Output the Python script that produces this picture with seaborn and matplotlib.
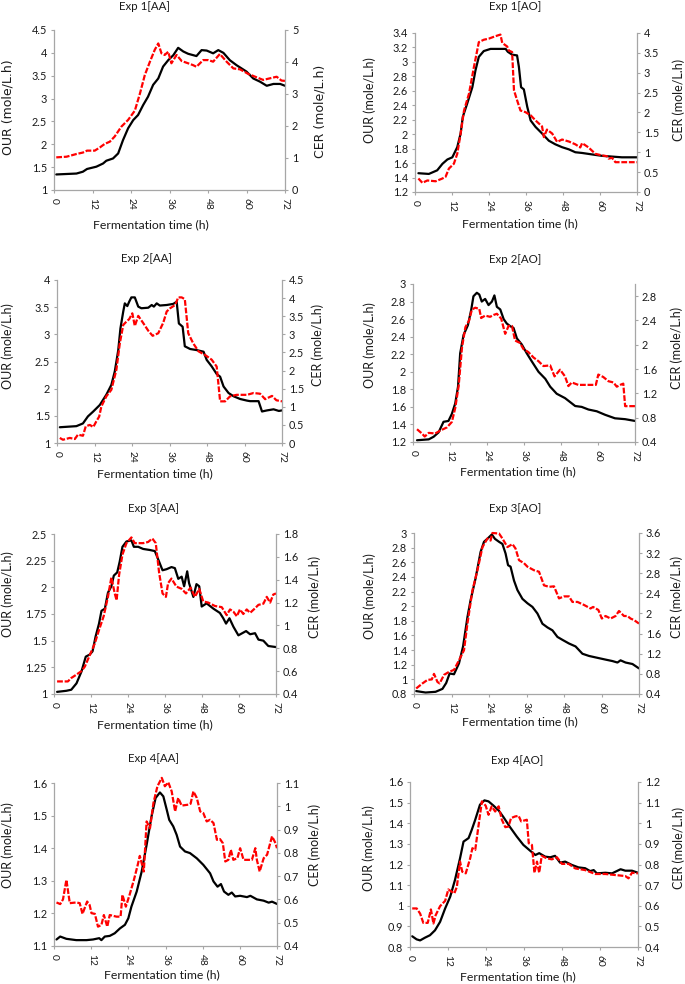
import matplotlib
matplotlib.use("Agg")
import matplotlib.pyplot as plt
import seaborn as sns

sns.set_theme(style="white")
plt.rcParams['font.family'] = ['Lato', 'DejaVu Sans']

# ---------------- data ----------------
titles = ["Exp 1[AA]", "Exp 1[AO]", "Exp 2[AA]", "Exp 2[AO]",
          "Exp 3[AA]", "Exp 3[AO]", "Exp 4[AA]", "Exp 4[AO]"]
x_ticks = [0, 12, 24, 36, 48, 60, 72]
x_label = "Fermentation time (h)"
our_label = "OUR (mole/L.h)"
cer_label = "CER (mole/L.h)"

# Exp 1[AA]
t_our_1aa = [0.7, 7, 9, 10.3, 13.2, 15.3, 16.3, 18.4, 20, 21.5, 23.1, 24.7, 26.2, 27.8, 29.3, 30.9, 32.5, 34, 35.6, 37.2,
             38.7, 40.3, 41.8, 44.4, 46, 47.6, 49.6, 51.2, 52.8, 54.8, 56.9, 60, 62.1, 64.2, 66.3, 68.4, 70.5, 72]
our_1aa = [1.34, 1.36, 1.4, 1.46, 1.51, 1.58, 1.64, 1.69, 1.8, 2.09, 2.35, 2.53, 2.64, 2.86, 3.04, 3.3, 3.44, 3.7, 3.84, 3.95,
           4.11, 4.03, 3.98, 3.93, 4.06, 4.05, 3.99, 4.06, 4.0, 3.84, 3.73, 3.59, 3.44, 3.37, 3.28, 3.32, 3.32, 3.28]
t_cer_1aa = [0.7, 3.9, 7, 9, 10.3, 12.7, 14.3, 15.8, 17.4, 18.9, 21, 23.1, 25.2, 26.8, 28.3, 29.9, 31.4, 32.5, 33.5, 34.5,
             35.6, 36.6, 38.2, 39.8, 41.8, 43.4, 44.4, 46.5, 48.1, 49.6, 51.7, 53.8, 55.9, 58, 60.5, 63.2, 65.2, 67.3, 69.4, 70.9, 72]
cer_1aa = [1.02, 1.04, 1.125, 1.17, 1.23, 1.23, 1.33, 1.44, 1.51, 1.67, 1.98, 2.19, 2.48, 3.02, 3.59, 4.01, 4.38, 4.58, 4.27, 4.22,
           4.32, 3.96, 4.22, 4.03, 3.96, 3.9, 3.85, 4.06, 4.06, 4.01, 4.25, 4.01, 3.8, 3.77, 3.63, 3.52, 3.44, 3.49, 3.54, 3.42, 3.41]

# Exp 1[AO]
t_our_1ao = [1.1, 4.5, 7.2, 8.9, 10.5, 12.1, 13.7, 14.8, 15.5, 16.9, 18.6, 19.6, 20.7, 22.3, 24.5, 27.2, 29.4, 30.1, 31.5, 33.1,
             33.7, 34.4, 35.3, 36.4, 37.5, 39.1, 41.2, 43.4, 45.5, 47.7, 49.9, 52, 54.2, 57.4, 60.7, 63.9, 67.1, 72]
our_1ao = [1.46, 1.45, 1.5, 1.59, 1.65, 1.68, 1.82, 2.01, 2.24, 2.42, 2.65, 2.88, 3.07, 3.15, 3.18, 3.18, 3.18, 3.14, 3.1, 3.09,
           2.93, 2.65, 2.62, 2.38, 2.19, 2.1, 2.01, 1.91, 1.86, 1.82, 1.79, 1.75, 1.74, 1.72, 1.7, 1.69, 1.68, 1.68]
t_cer_1ao = [1.1, 2.4, 4, 6.7, 8.9, 9.9, 11, 12.6, 13.7, 14.8, 15.9, 17.5, 19.1, 20.7, 22.3, 24, 26.1, 27.7, 28.3, 29.9,
             30.4, 31.5, 32.1, 33.1, 34.2, 35.8, 37.5, 39.1, 41.2, 41.8, 42.8, 44.5, 46.1, 47.7, 49.9, 52, 53.6, 54.2, 56.3, 58.5,
             60.7, 62.3, 62.8, 63.9, 65, 68.2, 72]
cer_1ao = [0.34, 0.23, 0.29, 0.27, 0.34, 0.38, 0.59, 0.71, 0.96, 1.47, 2.05, 2.47, 3.14, 3.77, 3.83, 3.86, 3.92, 3.96, 3.75, 3.66,
           3.56, 3.52, 2.56, 2.31, 2.05, 2.01, 1.93, 1.8, 1.65, 1.38, 1.57, 1.47, 1.26, 1.32, 1.27, 1.2, 1.12, 1.23, 1.12, 0.96,
           0.92, 0.9, 0.84, 0.86, 0.75, 0.75, 0.75]

# Exp 2[AA]
t_our_2aa = [0.9, 6.2, 8.3, 9.9, 11.6, 13.7, 15.8, 17.4, 18.5, 19.6, 20.3, 21.2, 21.7, 22.5, 23.1, 23.8, 24.9, 26, 27, 29.2,
             30.3, 31, 31.9, 32.9, 35.1, 37.2, 38.3, 39, 40.2, 40.9, 42.6, 44.7, 46.9, 47.9, 49.5, 51.1, 52.2, 53.3, 54.9, 56.5,
             58.6, 60.8, 61.8, 64.5, 65.6, 67.2, 69.3, 71, 72]
our_2aa = [1.29, 1.31, 1.36, 1.49, 1.58, 1.7, 1.89, 2.07, 2.32, 2.71, 3.11, 3.42, 3.57, 3.52, 3.6, 3.68, 3.68, 3.51, 3.48, 3.49,
           3.54, 3.51, 3.57, 3.53, 3.54, 3.56, 3.6, 3.2, 3.14, 2.78, 2.73, 2.71, 2.68, 2.53, 2.41, 2.27, 2.22, 2.04, 1.92, 1.86,
           1.81, 1.78, 1.77, 1.77, 1.58, 1.6, 1.62, 1.59, 1.6]
t_cer_2aa = [0.9, 1.9, 4.1, 5.7, 6.7, 8.3, 9.2, 10.5, 11.6, 12.6, 13.5, 14.2, 15.8, 17.4, 19, 20.1, 21.2, 22.2, 23.1, 24.1,
             24.9, 26, 27.6, 29.2, 30.6, 32.4, 34, 35.1, 36.2, 37.8, 38.8, 39.9, 40.9, 42, 43.6, 45.3, 47.4, 49.5, 51.1, 52.2,
             53.8, 55.4, 57.5, 60.8, 62.9, 65, 66.6, 68.8, 70.2, 72]
cer_2aa = [0.14, 0.09, 0.14, 0.11, 0.23, 0.2, 0.46, 0.5, 0.44, 0.6, 0.73, 1.01, 1.29, 1.47, 2.02, 2.75, 3.26, 3.35, 3.42, 3.58,
           3.23, 3.51, 3.31, 3.1, 2.96, 3.03, 3.32, 3.63, 3.72, 3.81, 4.02, 4.02, 3.97, 3.03, 2.75, 2.53, 2.43, 2.3, 2.11, 1.15,
           1.15, 1.29, 1.33, 1.33, 1.38, 1.36, 1.21, 1.3, 1.18, 1.15]

# Exp 2[AO]
t_our_2ao = [1.3, 5.1, 6.7, 8.3, 9.9, 11.5, 12.6, 13.7, 14.6, 15.3, 16.4, 17.8, 18.9, 19.6, 20.7, 21.5, 22.3, 23.4, 24.5, 25.6,
             26.4, 27.2, 28.3, 29.4, 30.4, 31.5, 32.6, 33.7, 35.3, 36.9, 38.5, 40.7, 42.9, 44.5, 46.6, 49.3, 52.6, 54.7, 56.9, 59.6,
             62.3, 65.5, 68.8, 72]
our_2ao = [1.22, 1.23, 1.26, 1.31, 1.43, 1.44, 1.52, 1.64, 1.83, 2.21, 2.42, 2.53, 2.71, 2.86, 2.9, 2.88, 2.8, 2.83, 2.76, 2.8,
           2.87, 2.74, 2.71, 2.6, 2.55, 2.52, 2.5, 2.38, 2.31, 2.21, 2.12, 2.0, 1.92, 1.83, 1.75, 1.7, 1.61, 1.6, 1.57, 1.55,
           1.51, 1.47, 1.46, 1.44]
t_cer_2ao = [1.3, 2.9, 3.8, 5.1, 7.2, 8.9, 11, 12.6, 13.7, 14.8, 15.9, 17, 18.2, 19.1, 20.2, 21.5, 22.1, 23.4, 25, 26.1,
             27.2, 28.6, 29.9, 31, 32.1, 33.1, 34.7, 35.8, 37.4, 39.1, 40.7, 42.3, 44.5, 45.9, 47.7, 49.3, 50.4, 51.5, 53.6, 56.9,
             59.3, 60.1, 61.7, 63.4, 65, 66.1, 67.2, 68.2, 68.8, 72]
cer_2ao = [0.61, 0.54, 0.49, 0.55, 0.54, 0.59, 0.64, 0.73, 0.96, 1.32, 1.96, 2.29, 2.4, 2.58, 2.61, 2.59, 2.44, 2.48, 2.46, 2.49,
           2.51, 2.43, 2.18, 2.31, 2.31, 2.07, 2.03, 1.93, 1.88, 1.79, 1.73, 1.65, 1.66, 1.48, 1.59, 1.48, 1.32, 1.38, 1.34, 1.34,
           1.34, 1.51, 1.47, 1.4, 1.38, 1.31, 1.34, 1.36, 0.99, 0.99]

# Exp 3[AA]
t_our_3aa = [1, 4, 5.6, 7.3, 8.9, 10.3, 11.6, 12.5, 13.5, 14.6, 15.4, 16.5, 17.5, 18.6, 19.4, 20.5, 21.3, 22.2, 23.5, 25.1,
             25.9, 27.3, 28.9, 31.1, 32.7, 34.1, 35.2, 36.5, 38.1, 39.2, 40.3, 41.4, 42.2, 43.2, 43.8, 45.2, 46.2, 47.1, 47.9, 49.5,
             51.7, 53.8, 54.9, 55.8, 56.9, 58.2, 59.8, 62.3, 63.6, 65.2, 66.3, 67.9, 69.5, 72]
our_3aa = [1.02, 1.03, 1.04, 1.1, 1.21, 1.35, 1.37, 1.4, 1.54, 1.66, 1.78, 1.8, 1.95, 2.01, 2.11, 2.14, 2.24, 2.38, 2.43, 2.44,
           2.38, 2.38, 2.36, 2.35, 2.34, 2.24, 2.16, 2.17, 2.19, 2.18, 2.08, 2.1, 2.01, 2.15, 2.04, 1.91, 2.03, 2.01, 1.82, 1.85,
           1.8, 1.76, 1.71, 1.66, 1.71, 1.63, 1.55, 1.59, 1.56, 1.57, 1.51, 1.5, 1.45, 1.44]
t_cer_3aa = [1, 4.5, 5.6, 7.3, 8.9, 10, 11.6, 13.2, 14.6, 16.1, 17.5, 18.6, 19.7, 20.3, 21.1, 22.2, 23.5, 25.1, 26.2, 28.9,
             30.5, 31.9, 33, 34.1, 35.2, 36.3, 37, 38.1, 39.7, 41.4, 42.8, 44.3, 45.7, 47.1, 48.4, 50, 52.2, 54.4, 56, 57.1,
             58.2, 59.3, 60.3, 61.4, 62.5, 63.6, 65.2, 66.3, 67.9, 69, 70.1, 71.1, 72]
cer_3aa = [0.51, 0.51, 0.54, 0.57, 0.6, 0.64, 0.74, 0.84, 0.96, 1.08, 1.25, 1.42, 1.28, 1.22, 1.44, 1.62, 1.72, 1.77, 1.72, 1.72,
           1.73, 1.76, 1.72, 1.46, 1.28, 1.25, 1.37, 1.41, 1.34, 1.32, 1.28, 1.33, 1.25, 1.32, 1.21, 1.2, 1.17, 1.16, 1.09, 1.14,
           1.12, 1.08, 1.14, 1.1, 1.14, 1.11, 1.15, 1.18, 1.19, 1.25, 1.2, 1.27, 1.28]

# Exp 3[AO]
t_our_3ao = [0.7, 3.7, 6.9, 9.1, 10.3, 11.4, 12.8, 14.4, 15.7, 17.1, 18.1, 19.7, 21.3, 22.4, 23.7, 24.9, 25.9, 27.2, 28.3, 29.3,
             30.1, 30.9, 32, 33.1, 34.7, 36.3, 37.9, 39.5, 41.1, 42.7, 44.3, 45.9, 47.5, 49.6, 51.7, 53.9, 56, 58.1, 61.3, 63.5,
             65.1, 66.1, 67.7, 69.9, 72]
our_3ao = [0.84, 0.82, 0.83, 0.87, 0.95, 1.08, 1.07, 1.22, 1.45, 1.85, 2.08, 2.38, 2.74, 2.88, 2.93, 2.98, 2.92, 2.88, 2.85, 2.72,
           2.56, 2.54, 2.35, 2.22, 2.1, 2.04, 1.99, 1.9, 1.76, 1.71, 1.67, 1.58, 1.54, 1.49, 1.45, 1.35, 1.32, 1.3, 1.27, 1.25,
           1.23, 1.26, 1.23, 1.21, 1.15]
t_cer_3ao = [0.7, 2.7, 4.3, 5.7, 6.4, 7.5, 8.2, 9.6, 11.2, 12.8, 14.4, 16, 17.1, 18.7, 20.3, 21.9, 23.5, 24.5, 25.1, 27.2,
             28.3, 29.9, 31.5, 32.5, 33.6, 35.2, 36.3, 38.4, 40, 41.6, 43.2, 44.8, 46.4, 48, 49.6, 50.7, 52.3, 54.4, 56.5, 57.3,
             59, 60.1, 61.3, 62.9, 64.5, 65.6, 67.2, 68.3, 69.3, 70.4, 72]
cer_3ao = [0.51, 0.61, 0.68, 0.69, 0.8, 0.64, 0.61, 0.78, 0.84, 0.88, 1.07, 1.27, 1.8, 2.46, 2.86, 3.32, 3.49, 3.45, 3.6, 3.59,
           3.49, 3.32, 3.38, 3.29, 3.06, 3.0, 2.93, 2.86, 2.83, 2.56, 2.53, 2.54, 2.3, 2.34, 2.34, 2.23, 2.23, 2.17, 2.1, 2.13,
           2.07, 1.9, 1.95, 1.9, 1.95, 2.05, 1.95, 1.95, 1.9, 1.87, 1.8]

# Exp 4[AA]
t_our_4aa = [0.8, 2, 4, 7.2, 10.5, 12.6, 14.6, 15.3, 16.4, 18, 19.6, 21.3, 22.9, 24, 25, 26.7, 28.3, 29.9, 31.5, 32.8,
             34.2, 35.3, 36.4, 37.2, 38.5, 39.6, 40.7, 42.3, 43.9, 46.1, 48.2, 50.4, 51.5, 52.8, 53.9, 54.9, 56.3, 57.4, 58.5, 60.1,
             62.3, 63.4, 65.5, 67.7, 69.3, 70.4, 72]
our_4aa = [1.12, 1.129, 1.122, 1.118, 1.118, 1.12, 1.124, 1.118, 1.129, 1.131, 1.139, 1.154, 1.165, 1.185, 1.221, 1.267, 1.328,
           1.41, 1.498, 1.554, 1.571, 1.559, 1.518, 1.487, 1.467, 1.441, 1.405, 1.39, 1.385, 1.369, 1.349, 1.323, 1.298, 1.282,
           1.29, 1.267, 1.257, 1.264, 1.252, 1.254, 1.25, 1.254, 1.243, 1.239, 1.233, 1.236, 1.229]
t_cer_4aa = [0.8, 2, 2.9, 4, 5.1, 7.2, 8.3, 9.2, 10.7, 11.5, 12.1, 13.2, 14.2, 15.3, 16.1, 17.2, 18, 20.2, 21.5, 22.1,
             23.2, 24.5, 25.8, 26.9, 27.7, 29, 29.9, 31, 32.1, 33.4, 34.8, 35.8, 36.9, 38, 39.1, 40.1, 41.2, 43.4, 44.1, 45,
             46.1, 47.2, 48.2, 49.3, 50.4, 51.5, 52.6, 53.6, 54.5, 55.3, 56.3, 57.1, 57.9, 59.2, 60.1, 61.2, 63.9, 65, 65.5, 66.4,
             67.7, 68.8, 70.4, 71.5, 72]
cer_4aa = [0.587, 0.58, 0.6, 0.684, 0.584, 0.587, 0.584, 0.538, 0.591, 0.576, 0.541, 0.538, 0.483, 0.49, 0.533, 0.483, 0.533,
           0.526, 0.526, 0.62, 0.569, 0.624, 0.684, 0.741, 0.787, 0.72, 0.935, 0.906, 1.014, 1.086, 1.122, 1.086, 1.103, 1.064,
           0.978, 1.036, 1.003, 1.007, 1.011, 1.064, 1.036, 0.978, 0.971, 0.935, 0.942, 0.928, 0.856, 0.859, 0.842, 0.763, 0.77,
           0.813, 0.77, 0.777, 0.82, 0.77, 0.77, 0.82, 0.77, 0.72, 0.777, 0.792, 0.871, 0.842, 0.82]

# Exp 4[AO]
t_our_4ao = [0.7, 2.1, 3.2, 4.7, 6.3, 7.9, 9.5, 11.1, 12.7, 14.2, 15.8, 16.9, 18.5, 19.5, 20.6, 22.1, 23.5, 24.8, 26.4, 28,
             29.5, 31.6, 33.7, 35.8, 38, 39.6, 40.8, 42.7, 44.3, 45.8, 47.4, 49, 51.1, 53.2, 55.3, 56.9, 58, 59, 61.7, 63.8,
             66.5, 68, 70.1, 72]
our_4ao = [0.852, 0.837, 0.832, 0.845, 0.857, 0.881, 0.922, 0.987, 1.044, 1.125, 1.23, 1.311, 1.328, 1.368, 1.417, 1.49, 1.511,
           1.506, 1.485, 1.462, 1.43, 1.381, 1.336, 1.295, 1.266, 1.246, 1.255, 1.238, 1.235, 1.242, 1.209, 1.214, 1.198, 1.186,
           1.182, 1.168, 1.173, 1.157, 1.16, 1.157, 1.177, 1.17, 1.17, 1.16]
t_cer_4ao = [0.7, 2.1, 3.2, 4.2, 5.6, 6.6, 7.4, 8.1, 9.5, 11.1, 12.1, 13.2, 14, 14.8, 15.8, 16.5, 17.6, 19, 19.7, 20.6,
             21.6, 22.7, 23.9, 24.8, 25.8, 26.9, 28, 29, 30.1, 31.1, 31.9, 33.2, 34.3, 35.1, 36.9, 37.5, 38.5, 39.3, 40.1, 40.8,
             41.6, 43.2, 44.8, 46.4, 48, 50.1, 52.2, 55.3, 58.5, 61.7, 64.8, 68, 69, 70.1, 72]
cer_4ao = [0.587, 0.587, 0.562, 0.517, 0.517, 0.582, 0.514, 0.554, 0.598, 0.624, 0.679, 0.668, 0.66, 0.692, 0.814, 0.765, 0.757,
           0.83, 0.879, 0.871, 0.984, 1.106, 1.085, 1.041, 1.082, 1.057, 1.082, 1.017, 0.981, 0.984, 1.025, 1.033, 1.036, 1.009,
           1.017, 0.903, 0.895, 0.76, 0.814, 0.76, 0.842, 0.83, 0.825, 0.835, 0.803, 0.803, 0.781, 0.773, 0.754, 0.754, 0.749,
           0.744, 0.733, 0.76, 0.757]

# axis ticks per panel
our_ticks = [
    [1, 1.5, 2, 2.5, 3, 3.5, 4, 4.5],
    [1.2, 1.4, 1.6, 1.8, 2, 2.2, 2.4, 2.6, 2.8, 3, 3.2, 3.4],
    [1, 1.5, 2, 2.5, 3, 3.5, 4],
    [1.2, 1.4, 1.6, 1.8, 2, 2.2, 2.4, 2.6, 2.8, 3],
    [1, 1.25, 1.5, 1.75, 2, 2.25, 2.5],
    [0.8, 1, 1.2, 1.4, 1.6, 1.8, 2, 2.2, 2.4, 2.6, 2.8, 3],
    [1.1, 1.2, 1.3, 1.4, 1.5, 1.6],
    [0.8, 0.9, 1, 1.1, 1.2, 1.3, 1.4, 1.5, 1.6],
]
cer_ticks = [
    [0, 1, 2, 3, 4, 5],
    [0, 0.5, 1, 1.5, 2, 2.5, 3, 3.5, 4],
    [0, 0.5, 1, 1.5, 2, 2.5, 3, 3.5, 4, 4.5],
    [0.4, 0.8, 1.2, 1.6, 2, 2.4, 2.8],
    [0.4, 0.6, 0.8, 1, 1.2, 1.4, 1.6, 1.8],
    [0.4, 0.8, 1.2, 1.6, 2, 2.4, 2.8, 3.2, 3.6],
    [0.4, 0.5, 0.6, 0.7, 0.8, 0.9, 1, 1.1],
    [0.4, 0.5, 0.6, 0.7, 0.8, 0.9, 1, 1.1, 1.2],
]
cer_top = [5, 4, 4.5, 3.0, 1.8, 3.6, 1.1, 1.2]

series = [
    (t_our_1aa, our_1aa, t_cer_1aa, cer_1aa),
    (t_our_1ao, our_1ao, t_cer_1ao, cer_1ao),
    (t_our_2aa, our_2aa, t_cer_2aa, cer_2aa),
    (t_our_2ao, our_2ao, t_cer_2ao, cer_2ao),
    (t_our_3aa, our_3aa, t_cer_3aa, cer_3aa),
    (t_our_3ao, our_3ao, t_cer_3ao, cer_3ao),
    (t_our_4aa, our_4aa, t_cer_4aa, cer_4aa),
    (t_our_4ao, our_4ao, t_cer_4ao, cer_4ao),
]

# ---------------- layout (pixels) ----------------
W, H = 685, 984
boxes = [(54, 285, 30, 190), (415, 637, 33, 192),
         (57, 282, 280, 443), (413, 635, 284, 442),
         (54, 276, 534, 694), (414, 639, 533, 694),
         (54, 277, 783, 946), (410, 638, 782, 947)]
title_xy = [(144, 7), (515, 7), (146, 258), (515, 260),
            (153, 509), (515, 509), (153, 759), (517, 761)]
xlabel_xy = [(151, 225), (520, 224), (155, 474), (518, 472),
             (155, 725), (520, 722), (162, 975), (518, 977)]
ylabel_xy = [(8, 107), (370, 100), (8, 346), (370, 345),
             (8, 594), (370, 596), (8, 845), (369, 848)]
y2label_xy = [(320, 111), (679, 100), (318, 345), (677, 348),
              (315, 597), (677, 597), (315, 845), (679, 848)]

spine_col = "#a6a6a6"
text_col = "#1a1a1a"

def fmt(v):
    return "{:g}".format(round(v, 3))

fig = plt.figure(figsize=(W / 100, H / 100), dpi=100)

for i in range(8):
    l, r, t, b = boxes[i]
    ax = fig.add_axes([l / W, 1 - b / H, (r - l) / W, (b - t) / H])
    ax2 = ax.twinx()
    tx, ov, tc, cv = series[i]
    sns.lineplot(x=tx, y=ov, ax=ax, color="black", linewidth=1.6,
                 estimator=None, sort=False, clip_on=False)
    sns.lineplot(x=tc, y=cv, ax=ax2, color="#ff0000", linewidth=1.6,
                 linestyle=(0, (2.6, 0.8)), estimator=None, sort=False, clip_on=False)

    ax.set_xlim(0, 72)
    ax.set_xticks(x_ticks)
    ax.set_xticklabels([str(v) for v in x_ticks], rotation=-90)
    ax.set_ylim(our_ticks[i][0], our_ticks[i][-1])
    ax.set_yticks(our_ticks[i])
    ax.set_yticklabels([fmt(v) for v in our_ticks[i]])
    ax2.set_ylim(cer_ticks[i][0], cer_top[i])
    ax2.set_yticks(cer_ticks[i])
    ax2.set_yticklabels([fmt(v) for v in cer_ticks[i]])
    ax.set_xlabel("")
    ax.set_ylabel("")
    ax2.set_ylabel("")

    for a in (ax, ax2):
        for s in a.spines.values():
            s.set_visible(False)
            s.set_color(spine_col)
            s.set_linewidth(0.9)
    ax.spines["left"].set_visible(True)
    ax.spines["bottom"].set_visible(True)
    ax2.spines["right"].set_visible(True)

    ax.tick_params(axis="y", which="major", direction="out", length=2.5, width=0.8,
                   color=spine_col, labelsize=7.8, labelcolor=text_col, pad=2.5,
                   left=True, right=False)
    ax.tick_params(axis="x", which="major", direction="out", length=2.5, width=0.8,
                   color=spine_col, labelsize=7.4, labelcolor=text_col, pad=3,
                   bottom=True, top=False)
    ax2.tick_params(axis="y", which="major", direction="out", length=2.5, width=0.8,
                    color=spine_col, labelsize=7.8, labelcolor=text_col, pad=2.5,
                    right=True, left=False)

    fig.text(title_xy[i][0] / W, 1 - title_xy[i][1] / H, titles[i], ha="center", va="center",
             fontsize=8.3, color=text_col)
    fig.text(xlabel_xy[i][0] / W, 1 - xlabel_xy[i][1] / H, x_label, ha="center", va="center",
             fontsize=8.8, color=text_col)
    if i == 0:
        yfam, ysize = ['DejaVu Sans'], 9.0
    else:
        yfam, ysize = ['Lato', 'DejaVu Sans'], 9.0
    fig.text(ylabel_xy[i][0] / W, 1 - ylabel_xy[i][1] / H, our_label, ha="center", va="center",
             rotation=90, fontsize=ysize, family=yfam, color=text_col)
    fig.text(y2label_xy[i][0] / W, 1 - y2label_xy[i][1] / H, cer_label, ha="center", va="center",
             rotation=90, fontsize=ysize, family=yfam, color=text_col)

fig.savefig("out.png", dpi=100, facecolor="white")
